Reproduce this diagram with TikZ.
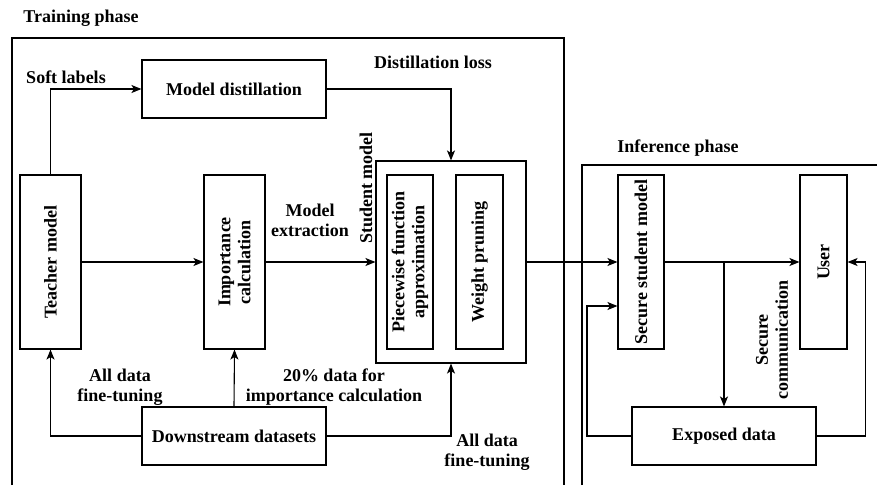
\documentclass[tikz,border=0pt]{standalone}
\usepackage{fontspec}
\setmainfont{Liberation Serif}
\usetikzlibrary{arrows.meta}

\begin{document}
\begin{tikzpicture}[x=1pt, y=-1pt, line width=1.1pt,
  >={Stealth[length=10pt,width=8pt,inset=2.5pt]},
  font=\fontsize{18}{20}\selectfont\bfseries,
  blk/.style={draw, inner sep=0pt},
  tall/.style={blk, minimum height=174},
  wide/.style={blk, minimum width=184, minimum height=58},
  txt/.style={align=center, inner sep=0pt},
  vtxt/.style={txt, rotate=90}]

\useasboundingbox (0,0) rectangle (877,485);

% phase frames
\draw (12,485) -- (12,38) -- (564,38) -- (564,485);
\draw (582,485) -- (582,165) -- (877,165);
\node[txt] (trainlbl) at (81,18) {Training phase};
\node[txt] (inflbl) at (678,148) {Inference phase};

% training boxes
\node[tall, minimum width=61] (teacher) at (50.5,262) {};
\node[vtxt] (teachertxt) at (teacher) {Teacher model};
\node[tall, minimum width=61] (importance) at (234.5,262) {};
\node[vtxt] (importancetxt) at (importance) {Importance\\calculation};
\node[wide] (distill) at (234,89) {Model distillation};
\node[wide] (downstream) at (234,436) {Downstream datasets};
\node[blk, minimum width=150, minimum height=202] (student) at (451,262) {};
\node[tall, minimum width=46] (piecewise) at (410,262) {};
\node[vtxt] (piecewisetxt) at (piecewise) {Piecewise function\\approximation};
\node[tall, minimum width=47] (pruning) at (479.5,262) {};
\node[vtxt] (pruningtxt) at (pruning) {Weight pruning};

% inference boxes
\node[tall, minimum width=46] (secure) at (641,262) {};
\node[vtxt] (securetxt) at (secure) {Secure student model};
\node[tall, minimum width=47] (user) at (823.5,262) {};
\node[vtxt] (usertxt) at (user) {User};
\node[wide] (exposed) at (724,436) {Exposed data};

% connectors
\draw[->] (teacher.north) |- (distill.west);
\draw[->] (distill.east) -| (student.north);
\draw[->] (teacher.east) -- (importance.west);
\draw[->] (importance.east) -- (student.west);
\draw[->] (downstream.west) -| (teacher.south);
\draw[->] (downstream.north) -- (importance.south);
\draw[->] (downstream.east) -| (student.south);
\draw[->] (student.east) -- (secure.west);
\draw[->] (secure.east) -- (user.west);
\draw[->] (exposed.north |- secure.east) -- (exposed.north);
\coordinate (back) at (587,306);
\draw[->] (exposed.west) -| (back) -- (back -| secure.west);
\draw[->] (exposed.east) -| ([xshift=18pt]user.east) -- (user.east);

% labels
\node[txt] (softlbl) at (66,77) {Soft labels};
\node[txt] (losslbl) at (433,62) {Distillation loss};
\node[txt] (extractlbl) at (310,220) {Model\\extraction};
\node[vtxt] (studentlbl) at (366,188) {Student model};
\node[txt] (tunelbl) at (120,387) {All data\\fine-tuning};
\node[txt] (partlbl) at (334,387) {20\% data for\\importance calculation};
\node[txt] (tunelblb) at (487,452) {All data\\fine-tuning};
\node[vtxt] (commlbl) at (772,340) {Secure\\communication};

\end{tikzpicture}
\end{document}
